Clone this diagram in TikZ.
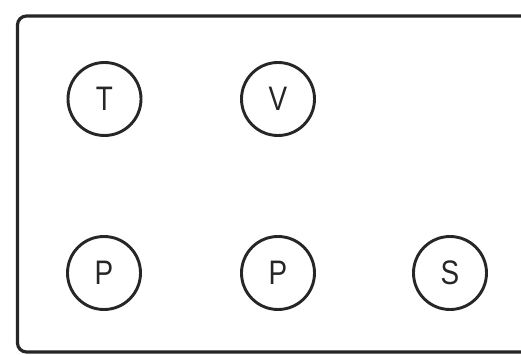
\documentclass[tikz,border=0pt]{standalone}
\usepackage{fontspec}
\newfontfamily\lblfont[FakeStretch=0.82]{Liberation Sans}
\begin{document}
\begin{tikzpicture}[x=1pt,y=-1pt,
  unit/.style={circle,draw=black!85,line width=2.9pt,minimum size=73pt,inner sep=0pt,
    font=\lblfont\fontsize{34}{34}\selectfont,text=black!85},
  frame/.style={draw=black!85,line width=3.2pt,rounded corners=9pt}]
\useasboundingbox (0,0) rectangle (521,355);
\clip (0,0) rectangle (521,355);
\fill[white] (0,0) rectangle (521,355);
\draw[frame] (17.5,16) rectangle (540,352);
\node[unit] (t) at (104.5,99) {T};
\node[unit] (v) at (278,99) {V};
\node[unit] (p1) at (104,273) {P};
\node[unit] (p2) at (278,273) {P};
\node[unit] (s) at (450,273) {S};
\end{tikzpicture}
\end{document}
